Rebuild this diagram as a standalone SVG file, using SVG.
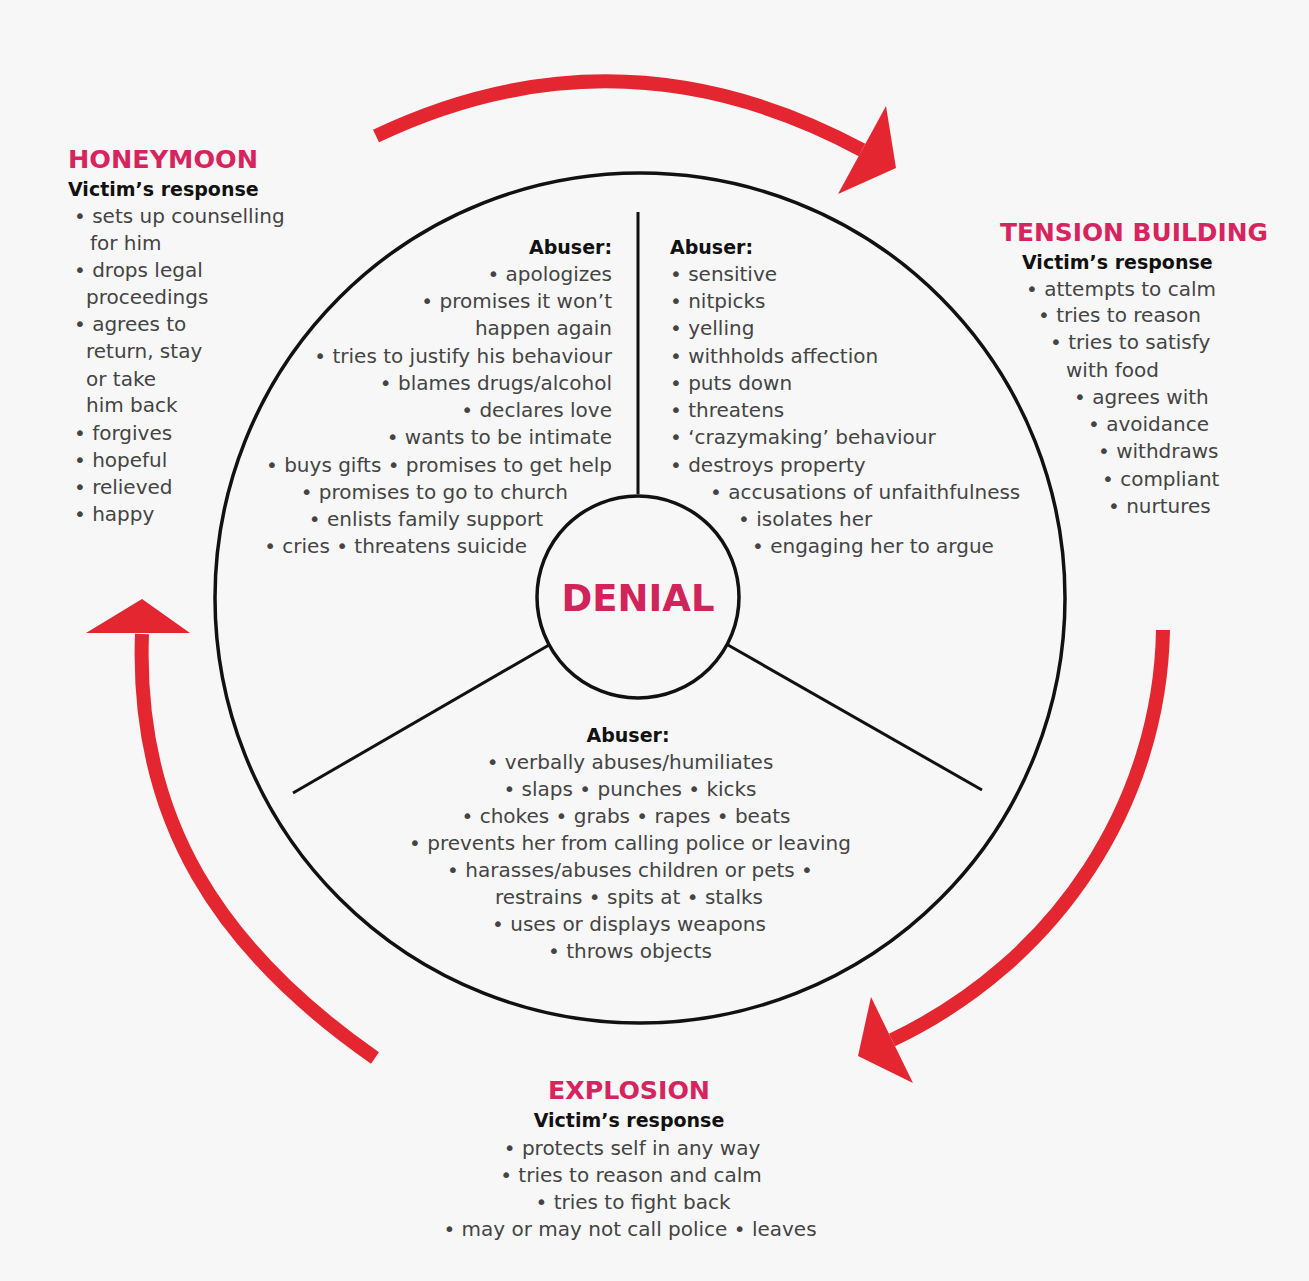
<svg xmlns="http://www.w3.org/2000/svg" width="1309" height="1281" viewBox="0 0 1309 1281">
<style>
  .bg { fill: #f7f7f7; }
  .ring { fill: none; stroke: #111; stroke-width: 3.5; }
  .spoke { stroke: #111; stroke-width: 3; }
  .head { font-family: "DejaVu Sans", "Liberation Sans", sans-serif; font-weight: bold; font-size: 24px; fill: #d6245e; }
  .sub { font-family: "DejaVu Sans", "Liberation Sans", sans-serif; font-weight: bold; font-size: 19px; fill: #111; }
  .item { font-family: "DejaVu Sans", "Liberation Sans", sans-serif; font-size: 20px; fill: #444; }
  .denial { font-family: "DejaVu Sans", "Liberation Sans", sans-serif; font-weight: bold; font-size: 37px; fill: #d0245a; }
  .arc { fill: none; stroke: #e3262f; stroke-width: 14; }
  .tip { fill: #e3262f; }
  .r { text-anchor: end; }
  .m { text-anchor: middle; }
</style>
<rect class="bg" x="0" y="0" width="1309" height="1281"/>

<g id="wheel">
  <circle class="ring" cx="640" cy="598" r="425"/>
  <line class="spoke" x1="638" y1="212" x2="638" y2="494"/>
  <line class="spoke" x1="549" y1="645" x2="293" y2="793"/>
  <line class="spoke" x1="728" y1="645" x2="982" y2="790"/>
</g>

<g id="denial">
  <circle class="ring" cx="638" cy="597" r="101"/>
  <text class="denial m" x="638" y="611">DENIAL</text>
</g>

<g id="abuser-honeymoon">
  <text class="sub r" x="612" y="254">Abuser:</text>
  <text class="item r" x="612" y="281">• apologizes</text>
  <text class="item r" x="612" y="308">• promises it won’t</text>
  <text class="item r" x="612" y="335">happen again</text>
  <text class="item r" x="612" y="363">• tries to justify his behaviour</text>
  <text class="item r" x="612" y="390">• blames drugs/alcohol</text>
  <text class="item r" x="612" y="417">• declares love</text>
  <text class="item r" x="612" y="444">• wants to be intimate</text>
  <text class="item r" x="612" y="472">• buys gifts • promises to get help</text>
  <text class="item r" x="568" y="499">• promises to go to church</text>
  <text class="item r" x="543" y="526">• enlists family support</text>
  <text class="item r" x="527" y="553">• cries  • threatens suicide</text>
</g>

<g id="abuser-tension">
  <text class="sub" x="670" y="254">Abuser:</text>
  <text class="item" x="670" y="281">• sensitive</text>
  <text class="item" x="670" y="308">• nitpicks</text>
  <text class="item" x="670" y="335">• yelling</text>
  <text class="item" x="670" y="363">• withholds affection</text>
  <text class="item" x="670" y="390">• puts down</text>
  <text class="item" x="670" y="417">• threatens</text>
  <text class="item" x="670" y="444">• ‘crazymaking’ behaviour</text>
  <text class="item" x="670" y="472">• destroys property</text>
  <text class="item" x="710" y="499">• accusations of unfaithfulness</text>
  <text class="item" x="738" y="526">• isolates her</text>
  <text class="item" x="752" y="553">• engaging her to argue</text>
</g>

<g id="abuser-explosion">
  <text class="sub m" x="628" y="742">Abuser:</text>
  <text class="item m" x="630" y="769">• verbally abuses/humiliates</text>
  <text class="item m" x="630" y="796">• slaps • punches • kicks</text>
  <text class="item m" x="626" y="823">• chokes • grabs • rapes • beats</text>
  <text class="item m" x="630" y="850">• prevents her from calling police or leaving</text>
  <text class="item m" x="630" y="877">• harasses/abuses children or pets •</text>
  <text class="item m" x="629" y="904">restrains • spits at • stalks</text>
  <text class="item m" x="629" y="931">• uses or displays weapons</text>
  <text class="item m" x="630" y="958">• throws objects</text>
</g>

<g id="honeymoon">
  <text class="head" x="68" y="168" textLength="190" lengthAdjust="spacingAndGlyphs">HONEYMOON</text>
  <text class="sub" x="68" y="196">Victim’s response</text>
  <text class="item" x="74" y="223">• sets up counselling</text>
  <text class="item" x="90" y="250">for him</text>
  <text class="item" x="74" y="277">• drops legal</text>
  <text class="item" x="86" y="304">proceedings</text>
  <text class="item" x="74" y="331">• agrees to</text>
  <text class="item" x="86" y="358">return, stay</text>
  <text class="item" x="86" y="386">or take</text>
  <text class="item" x="86" y="412">him back</text>
  <text class="item" x="74" y="440">• forgives</text>
  <text class="item" x="74" y="467">• hopeful</text>
  <text class="item" x="74" y="494">• relieved</text>
  <text class="item" x="74" y="521">• happy</text>
</g>

<g id="tension-building">
  <text class="head" x="1000" y="241" textLength="268" lengthAdjust="spacingAndGlyphs">TENSION BUILDING</text>
  <text class="sub" x="1022" y="269">Victim’s response</text>
  <text class="item" x="1026" y="296">• attempts to calm</text>
  <text class="item" x="1038" y="322">• tries to reason</text>
  <text class="item" x="1050" y="349">• tries to satisfy</text>
  <text class="item" x="1066" y="377">with food</text>
  <text class="item" x="1074" y="404">• agrees with</text>
  <text class="item" x="1088" y="431">• avoidance</text>
  <text class="item" x="1098" y="458">• withdraws</text>
  <text class="item" x="1102" y="486">• compliant</text>
  <text class="item" x="1108" y="513">• nurtures</text>
</g>

<g id="explosion">
  <text class="head m" x="629" y="1099" textLength="162" lengthAdjust="spacingAndGlyphs">EXPLOSION</text>
  <text class="sub m" x="629" y="1127">Victim’s response</text>
  <text class="item m" x="632" y="1155">• protects self in any way</text>
  <text class="item m" x="631" y="1182">• tries to reason and calm</text>
  <text class="item m" x="633" y="1209">• tries to fight back</text>
  <text class="item m" x="630" y="1236">• may or may not call police • leaves</text>
</g>

<g id="connectors">
  <path class="arc" d="M 376 136 Q 620 20 862 150"/>
  <polygon class="tip" points="838,194 886,106 896,168"/>
  <path class="arc" d="M 1163 630 C 1160 800 1060 960 892 1040"/>
  <polygon class="tip" points="913,1083 871,997 858,1056"/>
  <path class="arc" d="M 375 1058 C 220 950 135 820 142 634"/>
  <polygon class="tip" points="86,633 190,633 142,599"/>
</g>
</svg>
